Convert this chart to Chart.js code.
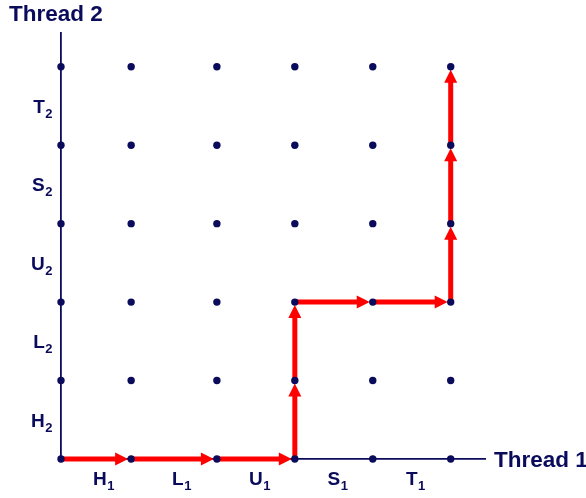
<!DOCTYPE html>
<html>
<head>
<meta charset="utf-8">
<script src="https://cdn.jsdelivr.net/npm/chart.js@4.4.1/dist/chart.umd.min.js"></script>
<style>
  html, body { margin: 0; padding: 0; background: #fff; }
</style>
</head>
<body>
<canvas id="myChart" width="586" height="498"></canvas>
<script>
// progress graph data
const thread1_pos = [0, 0.9, 2, 3, 4, 5];   // grid columns (Thread 1)
const thread2_pos = [0, 1, 2, 3, 4, 5];     // grid rows (Thread 2)
const thread1_steps = ['H', 'L', 'U', 'S', 'T'];
const thread2_steps = ['H', 'L', 'U', 'S', 'T'];
const thread1_label_pos = [0.5, 1.5, 2.5, 3.5, 4.5];
const thread2_label_pos = [0.5, 1.5, 2.5, 3.5, 4.5];
// trajectory
const path_x = [0, 0.9, 2, 3, 3, 3, 4, 5, 5, 5, 5];
const path_y = [0, 0, 0, 0, 1, 2, 2, 2, 3, 4, 5];

const NAVY = '#0b0b5c';
const RED = '#ff0000';
const FONT = '"Liberation Sans", Arial, sans-serif';

// grid dots
const dots = [];
thread2_pos.forEach(function(y) {
  thread1_pos.forEach(function(x) {
    dots.push({x: x, y: y});
  });
});
const path = path_x.map(function(x, i) { return {x: x, y: path_y[i]}; });

// red arrows drawn from the path dataset points
const arrowPlugin = {
  id: 'arrows',
  afterDatasetDraw: function(chart, args) {
    if (args.index !== 1) return;
    const ctx = chart.ctx;
    const pts = args.meta.data;
    ctx.save();
    ctx.fillStyle = RED;
    ctx.strokeStyle = RED;
    ctx.lineWidth = 5;
    ctx.lineCap = 'butt';
    for (var i = 1; i < pts.length; i++) {
      const p0 = pts[i - 1], p1 = pts[i];
      const dx = p1.x - p0.x, dy = p1.y - p0.y;
      const len = Math.sqrt(dx * dx + dy * dy);
      const ux = dx / len, uy = dy / len;
      const tipX = p1.x - ux * 3, tipY = p1.y - uy * 3;
      const bx = tipX - ux * 13, by = tipY - uy * 13;
      ctx.beginPath();
      ctx.moveTo(p0.x, p0.y);
      ctx.lineTo(bx + ux * 1, by + uy * 1);
      ctx.stroke();
      ctx.beginPath();
      ctx.moveTo(tipX, tipY);
      ctx.lineTo(bx - uy * 6.5, by + ux * 6.5);
      ctx.lineTo(bx + uy * 6.5, by - ux * 6.5);
      ctx.closePath();
      ctx.fill();
    }
    ctx.restore();
  }
};

// step labels with subscripts + axis names
function drawLabel(ctx, letter, sub, x, y, align) {
  ctx.font = 'bold 19px ' + FONT;
  const w1 = ctx.measureText(letter).width;
  ctx.font = 'bold 13px ' + FONT;
  const w2 = ctx.measureText(sub).width;
  var left;
  if (align === 'right') left = x - w1 - w2;
  else left = x - w1 / 2;
  ctx.textAlign = 'left';
  ctx.textBaseline = 'alphabetic';
  ctx.font = 'bold 19px ' + FONT;
  ctx.fillText(letter, left, y);
  ctx.font = 'bold 13px ' + FONT;
  ctx.fillText(sub, left + w1 + 0.5, y + 5);
}

const labelPlugin = {
  id: 'labels',
  afterDraw: function(chart) {
    const ctx = chart.ctx;
    const xs = chart.scales.x, ys = chart.scales.y;
    const area = chart.chartArea;
    ctx.save();
    ctx.fillStyle = NAVY;
    thread1_steps.forEach(function(s, i) {
      drawLabel(ctx, s, '1', xs.getPixelForValue(thread1_label_pos[i]), area.bottom + 26, 'center');
    });
    thread2_steps.forEach(function(s, i) {
      drawLabel(ctx, s, '2', area.left - 9, ys.getPixelForValue(thread2_label_pos[i]) + 7, 'right');
    });
    ctx.font = 'bold 22.5px ' + FONT;
    ctx.textAlign = 'left';
    ctx.textBaseline = 'alphabetic';
    ctx.fillText('Thread 2', 9, 21);
    ctx.fillText('Thread 1', area.right + 9, area.bottom + 8);
    ctx.restore();
  }
};

const config = {
  type: 'line',
  data: {
    datasets: [{
      label: 'states',
      data: dots,
      showLine: false,
      pointRadius: 3.7,
      pointHoverRadius: 3.7,
      pointBackgroundColor: NAVY,
      pointBorderWidth: 0,
      clip: false
    }, {
      label: 'trajectory',
      data: path,
      showLine: false,
      pointRadius: 0,
      clip: false
    }]
  },
  plugins: [arrowPlugin, labelPlugin],
  options: {
    responsive: false,
    animation: false,
    events: [],
    layout: { padding: { left: 61, right: 101, top: 33, bottom: 39 } },
    plugins: { legend: { display: false }, tooltip: { enabled: false } },
    scales: {
      x: {
        type: 'linear', min: 0, max: 5.44,
        grid: { display: false, drawTicks: false },
        ticks: { display: false },
        border: { display: true, color: NAVY, width: 1.8 }
      },
      y: {
        type: 'linear', min: 0, max: 5.43,
        grid: { display: false, drawTicks: false },
        ticks: { display: false },
        border: { display: true, color: NAVY, width: 1.8 }
      }
    }
  }
};

const myChart = new Chart(document.getElementById('myChart'), config);
</script>
</body>
</html>
